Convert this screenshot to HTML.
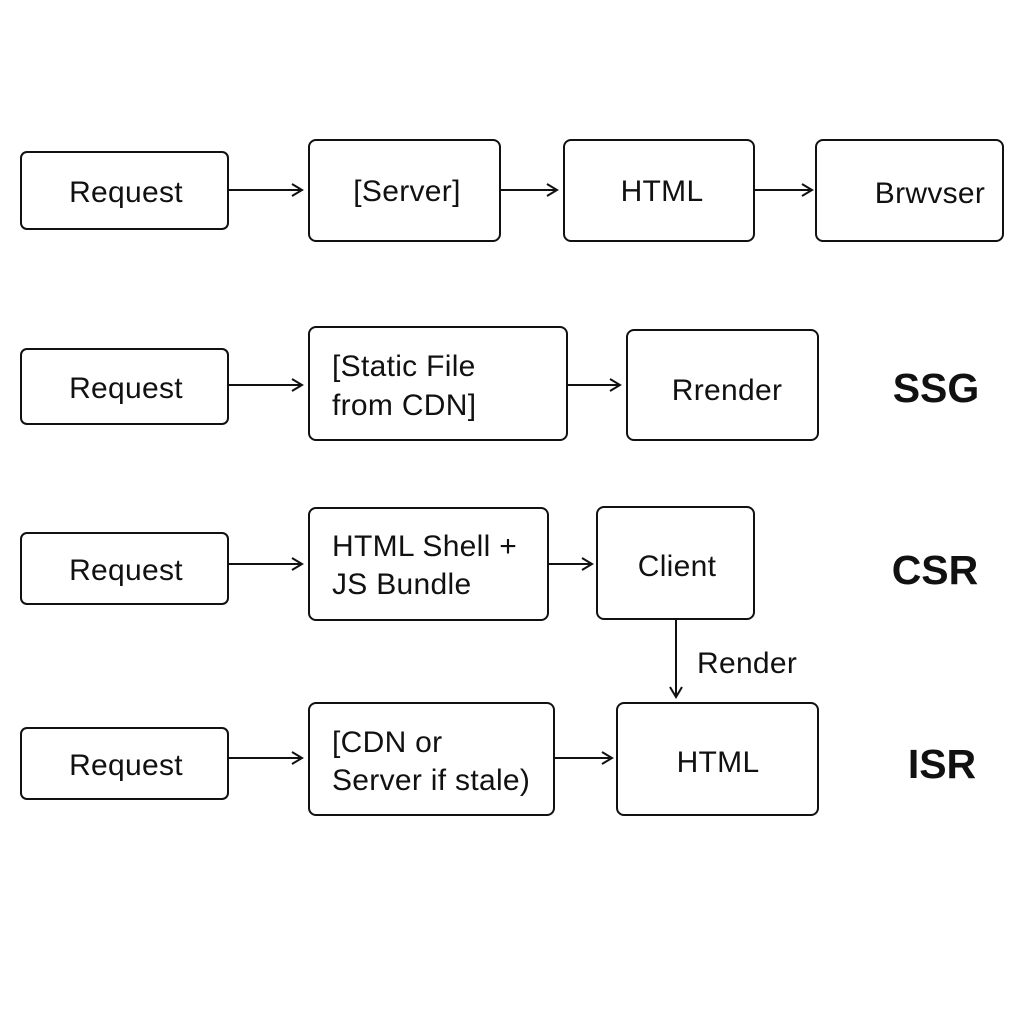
<!DOCTYPE html>
<html><head><meta charset="utf-8"><style>
html,body{margin:0;padding:0;background:#fff;}
svg{display:block;}
text{font-family:"Liberation Sans",sans-serif;fill:#111;}
</style></head><body>
<svg width="1024" height="1024" viewBox="0 0 1024 1024" xmlns="http://www.w3.org/2000/svg">
<defs>
<marker id="a" markerWidth="14" markerHeight="14" refX="12" refY="7" orient="auto" markerUnits="userSpaceOnUse">
<path d="M2,1 L12,7 L2,13" fill="none" stroke="#111" stroke-width="2"/>
</marker>
</defs>
<g fill="none" stroke="#111" stroke-width="2">
<rect x="21" y="152" width="207" height="77" rx="6"/>
<rect x="309" y="140" width="191" height="101" rx="7"/>
<rect x="564" y="140" width="190" height="101" rx="7"/>
<rect x="816" y="140" width="187" height="101" rx="7"/>
<rect x="21" y="349" width="207" height="75" rx="6"/>
<rect x="309" y="327" width="258" height="113" rx="7"/>
<rect x="627" y="330" width="191" height="110" rx="7"/>
<rect x="21" y="533" width="207" height="71" rx="6"/>
<rect x="309" y="508" width="239" height="112" rx="7"/>
<rect x="597" y="507" width="157" height="112" rx="7"/>
<rect x="21" y="728" width="207" height="71" rx="6"/>
<rect x="309" y="703" width="245" height="112" rx="7"/>
<rect x="617" y="703" width="201" height="112" rx="7"/>
<line x1="229" y1="190" x2="302" y2="190" marker-end="url(#a)"/>
<line x1="500" y1="190" x2="557" y2="190" marker-end="url(#a)"/>
<line x1="755" y1="190" x2="812" y2="190" marker-end="url(#a)"/>
<line x1="229" y1="385" x2="302" y2="385" marker-end="url(#a)"/>
<line x1="567" y1="385" x2="620" y2="385" marker-end="url(#a)"/>
<line x1="229" y1="564" x2="302" y2="564" marker-end="url(#a)"/>
<line x1="548" y1="564" x2="592" y2="564" marker-end="url(#a)"/>
<line x1="676" y1="619" x2="676" y2="697" marker-end="url(#a)"/>
<line x1="229" y1="758" x2="302" y2="758" marker-end="url(#a)"/>
<line x1="554" y1="758" x2="612" y2="758" marker-end="url(#a)"/>
</g>
<g font-size="30" letter-spacing="0.3">
<text x="126" y="202" text-anchor="middle">Request</text>
<text x="407" y="201" text-anchor="middle">[Server]</text>
<text x="662" y="201" text-anchor="middle">HTML</text>
<text x="930" y="203" text-anchor="middle">Brwvser</text>
<text x="126" y="398" text-anchor="middle">Request</text>
<text x="332" y="376">[Static File</text>
<text x="332" y="415">from CDN]</text>
<text x="727" y="400" text-anchor="middle">Rrender</text>
<text x="126" y="580" text-anchor="middle">Request</text>
<text x="332" y="556">HTML Shell +</text>
<text x="332" y="594">JS Bundle</text>
<text x="677" y="576" text-anchor="middle">Client</text>
<text x="697" y="673">Render</text>
<text x="126" y="775" text-anchor="middle">Request</text>
<text x="332" y="752">[CDN or</text>
<text x="332" y="790">Server if stale)</text>
<text x="718" y="772" text-anchor="middle">HTML</text>
</g>
<g font-size="41" font-weight="bold">
<text x="936" y="402" text-anchor="middle">SSG</text>
<text x="935" y="584" text-anchor="middle">CSR</text>
<text x="942" y="778" text-anchor="middle">ISR</text>
</g>
</svg>
</body></html>
